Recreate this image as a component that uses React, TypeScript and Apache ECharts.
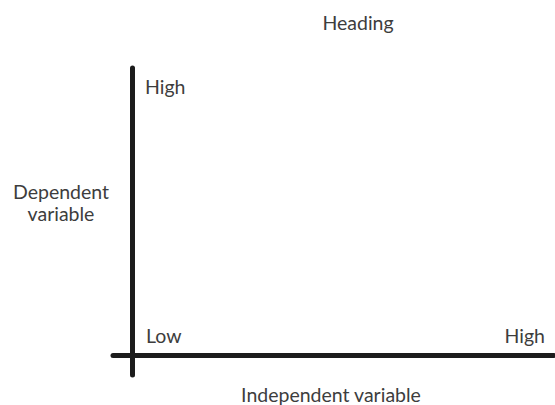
import React, { useEffect, useRef } from "react";
import * as echarts from "echarts";

const headingText = "Heading";
const xAxisTitle = "Independent variable";
const yAxisTitleLines = ["Dependent", "variable"];
const lowLabel = "Low";
const highLabel = "High";
const xExtent = [-19, 422];
const yExtent = [-20, 287];

const FONT = "Lato, 'Open Sans', sans-serif";
const TEXT_COLOR = "#3d3d3d";
const LINE_COLOR = "#1c1c1c";

export default function App() {
  const ref = useRef<HTMLDivElement>(null);
  useEffect(() => {
    document.body.style.margin = "0";
    const chart = echarts.init(ref.current!, null, { renderer: "svg" });
    const txt = (text: string, x: number, y: number, align: string) => ({
      type: "text",
      x,
      y,
      style: {
        text,
        fill: TEXT_COLOR,
        font: `19.5px ${FONT}`,
        align,
        verticalAlign: "middle",
      },
    });
    chart.setOption({
      animation: false,
      backgroundColor: "#ffffff",
      grid: { left: 113, right: 1, top: 68, bottom: 30 },
      xAxis: {
        type: "value",
        min: xExtent[0],
        max: xExtent[1],
        axisLine: { onZero: true, lineStyle: { color: LINE_COLOR, width: 5 } },
        axisTick: { show: false },
        axisLabel: { show: false },
        splitLine: { show: false },
      },
      yAxis: {
        type: "value",
        min: yExtent[0],
        max: yExtent[1],
        axisLine: { show: true, onZero: true, lineStyle: { color: LINE_COLOR, width: 5 } },
        axisTick: { show: false },
        axisLabel: { show: false },
        splitLine: { show: false },
      },
      series: [],
      graphic: [
        txt(headingText, 358, 22, "center"),
        txt(highLabel, 145, 86, "left"),
        txt(lowLabel, 146, 335, "left"),
        txt(highLabel, 545, 335, "right"),
        txt(yAxisTitleLines[0], 61, 191, "center"),
        txt(yAxisTitleLines[1], 61, 213, "center"),
        txt(xAxisTitle, 331, 394, "center"),
      ],
    });
    return () => chart.dispose();
  }, []);
  return (
    <div
      ref={ref}
      style={{ position: "absolute", left: 0, top: 0, width: 555, height: 405 }}
    />
  );
}
